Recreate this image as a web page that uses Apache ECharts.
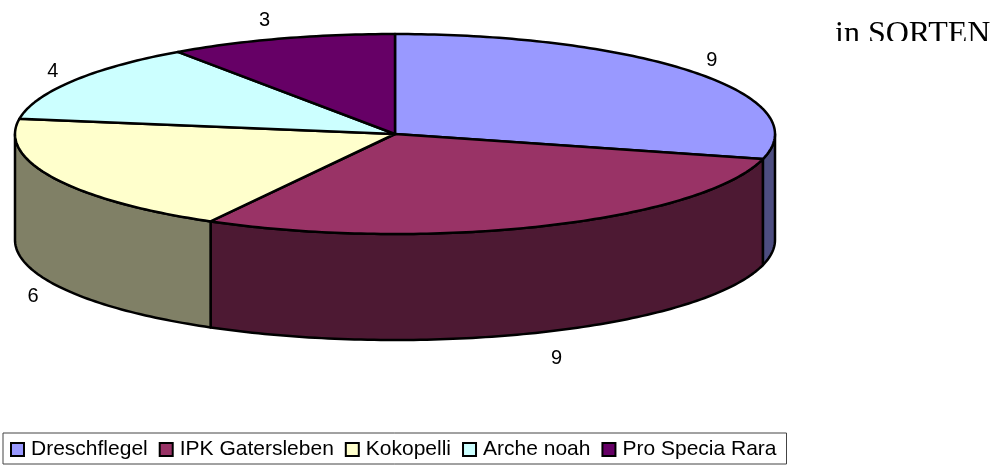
<!DOCTYPE html>
<html>
<head>
<meta charset="utf-8">
<style>
  html, body { margin: 0; padding: 0; background: #fff; }
  #chart { width: 997px; height: 465px; }
</style>
<script src="https://cdn.jsdelivr.net/npm/echarts@6/dist/echarts.min.js"></script>
</head>
<body>
<div id="chart"></div>
<script>
const categories = ['Dreschflegel', 'IPK Gatersleben', 'Kokopelli', 'Arche noah', 'Pro Specia Rara']
const sliceValues = [9, 9, 6, 4, 3]
const topColors = ['#9999ff', '#993366', '#ffffcc', '#ccffff', '#660066']
const sideColors = ['#4d4d80', '#4d1933', '#808066', '#668080', '#330033']

// ellipse of the pie top and height of the wall
const cx = 395
const cy = 134
const rx = 380
const ry = 100
const depth = 106

// small manual shifts for the value labels
const labelShiftX = [-1, 3, -1, -1, -10]
const labelShiftY = [-1, 4, 1, 0, 1]

const total = sliceValues.reduce((a, b) => a + b, 0)

// angle in degrees, clockwise from 12 o'clock
function rimPoint(deg, dy = 0) {
  const a = deg * Math.PI / 180
  return [cx + rx * Math.sin(a), cy - ry * Math.cos(a) + dy]
}

function arcPoints(from, to, dy = 0) {
  const pts = []
  const steps = Math.max(2, Math.ceil(to - from))
  for (let i = 0; i <= steps; i++) {
    pts.push(rimPoint(from + (to - from) * i / steps, dy))
  }
  return pts
}

function renderSlice(params, api) {
  const index = params.seriesIndex
  const value = api.value(0)
  const before = sliceValues.slice(0, index).reduce((a, b) => a + b, 0)
  const start = before / total * 360
  const end = (before + value) / total * 360
  const mid = (start + end) / 2
  const children = []

  const stroke = { stroke: '#000', lineWidth: 2.5, lineJoin: 'round' }

  // only the front half of the wall can be seen
  const wallFrom = Math.max(start, 90)
  const wallTo = Math.min(end, 270)
  if (wallTo > wallFrom) {
    const points = arcPoints(wallFrom, wallTo).concat(arcPoints(wallFrom, wallTo, depth).reverse())
    children.push({
      type: 'polygon',
      z2: 1,
      shape: { points },
      style: { fill: sideColors[index], ...stroke }
    })
  }

  children.push({
    type: 'polygon',
    z2: 2,
    shape: { points: [[cx, cy]].concat(arcPoints(start, end)) },
    style: { fill: topColors[index], ...stroke }
  })

  const a = mid * Math.PI / 180
  const front = Math.cos(a) < 0
  children.push({
    type: 'text',
    z2: 3,
    style: {
      text: String(value),
      x: cx + (rx + 22) * Math.sin(a) + labelShiftX[index],
      y: cy - (ry + 22) * Math.cos(a) + (front ? depth : 0) + 2 + labelShiftY[index],
      fill: '#000',
      font: '20px "Liberation Sans", Arial, sans-serif',
      align: 'center',
      verticalAlign: 'middle'
    }
  })

  return { type: 'group', children }
}

const chart = echarts.init(document.getElementById('chart'))

chart.setOption({
  animation: false,
  color: topColors,
  legend: {
    data: categories,
    selectedMode: false,
    left: 3,
    top: 433,
    padding: [6, 10, 4, 7],
    borderColor: '#444',
    borderWidth: 1,
    icon: 'rect',
    itemWidth: 13,
    itemHeight: 13,
    itemGap: 11,
    itemStyle: { borderColor: '#000', borderWidth: 2 },
    textStyle: {
      color: '#000',
      fontSize: 21,
      fontFamily: '"Liberation Sans", Arial, sans-serif',
      padding: [0, 0, 0, 2]
    }
  },
  graphic: [
    {
      type: 'text',
      left: 835,
      top: 19,
      z: 10,
      style: {
        text: 'in SORTEN',
        fill: '#000',
        font: '32px "Liberation Serif", "Times New Roman", serif'
      }
    },
    // the title is cut off at the bottom in the original
    {
      type: 'rect',
      left: 825,
      top: 41,
      z: 11,
      shape: { width: 170, height: 14 },
      style: { fill: '#fff' }
    }
  ],
  series: categories.map((name, i) => ({
    type: 'custom',
    name,
    coordinateSystem: 'none',
    renderItem: renderSlice,
    silent: true,
    data: [[sliceValues[i]]]
  }))
})
</script>
</body>
</html>
